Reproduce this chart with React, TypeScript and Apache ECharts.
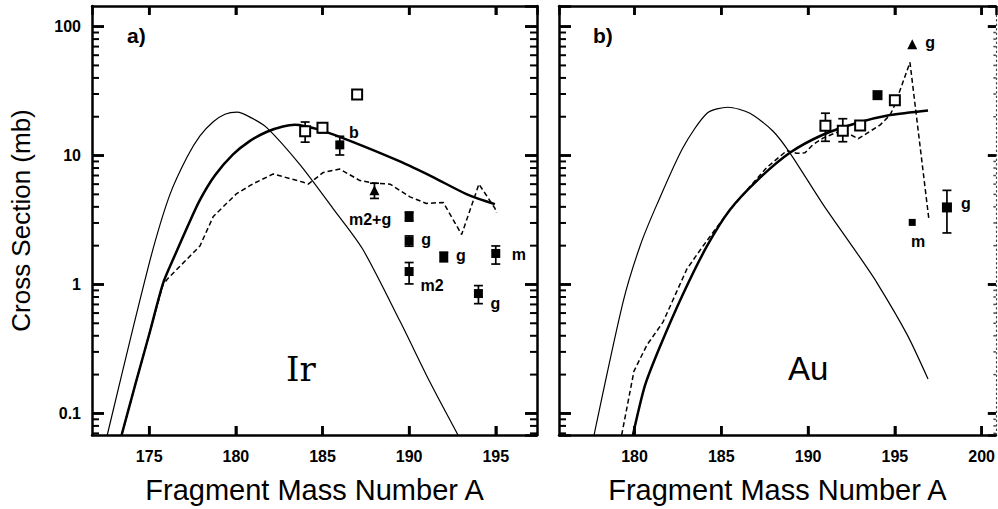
import React, { useEffect, useRef } from 'react';
import * as echarts from 'echarts';

// ---------- Panel a) Ir ----------
const irThinX = [172.58, 174.07, 175.22, 176.2, 177.18, 177.93, 178.68, 179.37, 180.07, 180.9, 181.8, 183.7, 185.6, 187.3, 189.47, 191.2, 192.82];
const irThinY = [0.068, 0.46, 1.88, 5.0, 9.7, 14.2, 18.2, 20.9, 21.7, 19.6, 16.4, 8.5, 3.9, 1.9, 0.52, 0.175, 0.068];

const irThickX = [173.41, 174.18, 175.05, 175.8, 176.49, 177.24, 177.93, 178.8, 179.84, 180.82, 181.8, 182.72, 183.41, 183.99, 184.85, 186.59, 189.47, 191.38, 193.34, 194.95];
const irThickY = [0.068, 0.164, 0.434, 1.02, 1.69, 2.87, 4.53, 7.03, 10.2, 13.0, 15.3, 16.8, 17.3, 16.9, 15.8, 13.0, 9.0, 6.8, 5.0, 4.2];

const irDashX = [173.41, 174.18, 175.05, 175.8, 176.1, 177.93, 178.7, 180.05, 181.0, 182.16, 183.9, 184.18, 185.05, 186.0, 187.16, 188.03, 188.9, 190.05, 191.0, 191.97, 193.03, 194.03, 194.95, 195.05];
const irDashY = [0.068, 0.164, 0.434, 1.0, 1.12, 1.99, 3.37, 5.07, 6.04, 7.2, 6.2, 6.0, 7.4, 7.85, 6.4, 6.1, 6.0, 4.78, 4.25, 4.33, 2.44, 6.0, 3.9, 3.6];

const irOpenX = [184, 185, 187];
const irOpenY = [15.4, 16.4, 29.7];
const irOpenLo = [12.7, 15.0, 27.7];
const irOpenHi = [18.2, 17.3, 31.5];

const irFillX = [186, 190, 190, 190, 192, 194, 195];
const irFillY = [12.1, 3.37, 2.17, 1.26, 1.64, 0.85, 1.74];
const irFillLo = [10.1, 3.1, 1.98, 1.01, 1.5, 0.71, 1.44];
const irFillHi = [14.1, 3.65, 2.38, 1.48, 1.78, 0.98, 1.99];
const irFillTags = ['b', 'm2+g', 'g', 'm2', 'g', 'g', 'm'];

const irTriX = [188];
const irTriY = [5.37];
const irTriLo = [4.65];
const irTriHi = [6.1];

// ---------- Panel b) Au ----------
const auThinX = [177.67, 179.34, 180.32, 181.3, 182.79, 184.18, 185.38, 186.65, 187.97, 188.95, 190.85, 192.82, 193.97, 195.7, 196.91];
const auThinY = [0.068, 0.73, 1.99, 4.2, 11.5, 21.3, 23.7, 21.3, 15.5, 10.5, 4.2, 1.75, 1.03, 0.41, 0.185];

const auThickX = [179.91, 180.6, 181.47, 182.79, 184.18, 185.5, 187.06, 188.95, 190.85, 192.82, 194.72, 196.91];
const auThickY = [0.068, 0.164, 0.33, 0.84, 1.99, 3.8, 6.4, 10.5, 14.5, 17.9, 20.6, 22.4];

const auDashX = [179.26, 179.97, 180.72, 181.64, 183.02, 183.95, 185.33, 186.48, 187.63, 188.77, 189.34, 189.82, 190.3, 190.88, 191.84, 192.41, 192.89, 194.16, 194.73, 195.0, 195.87, 196.96];
const auDashY = [0.068, 0.213, 0.34, 0.51, 1.32, 1.99, 3.55, 5.4, 8.1, 10.9, 10.4, 10.5, 12.2, 13.7, 15.5, 14.6, 13.5, 17.3, 20.7, 24.7, 52.8, 3.2];

const auOpenX = [191, 192, 193, 195];
const auOpenY = [17.0, 15.6, 17.1, 26.9];
const auOpenLo = [12.9, 12.8, 16.2, 25.0];
const auOpenHi = [21.3, 19.3, 18.0, 28.8];

const auFillX = [194, 198];
const auFillY = [29.4, 3.96];
const auFillLo = [29.4, 2.51];
const auFillHi = [29.4, 5.37];
const auFillTags = ['', 'g'];

const auSmallX = [196];
const auSmallY = [3.03];
const auSmallTags = ['m'];

const auTriX = [196];
const auTriY = [73];
const auTriTags = ['g'];

// ---------- Axes ----------
const xTicksA = [175, 180, 185, 190, 195];
const xTicksB = [180, 185, 190, 195, 200];
const yMajor = [0.1, 1, 10, 100];
const yMinor = [0.07, 0.08, 0.09, 0.2, 0.3, 0.4, 0.5, 0.6, 0.7, 0.8, 0.9, 2, 3, 4, 5, 6, 7, 8, 9, 20, 30, 40, 50, 60, 70, 80, 90];

const yTitle = 'Cross Section (mb)';
const xTitle = 'Fragment Mass Number A';

// label offsets (style only)
const irFillOffsets: [number, number][] = [[14, -12], [-39, 3], [17, -2], [23, 14], [17, -1], [17, 10], [23, 1]];
const auFillOffsets: [number, number][] = [[0, 0], [19, -4]];
const auSmallOffsets: [number, number][] = [[6, 19]];
const auTriOffsets: [number, number][] = [[18, -2]];

const FONT = '"Liberation Sans", Arial, sans-serif';
const INK = '#000';

const X_EXT_A = [171.7, 197.38];
const X_EXT_B = [175.65, 200.82];
const Y_EXT = [0.068, 144.5];

function zip(xs: number[], ys: number[]) {
  return xs.map((x, i) => [x, ys[i]]);
}

const xLabelFmt = (v: number) => (Math.abs(v / 5 - Math.round(v / 5)) < 1e-6 ? String(Math.round(v)) : '');
const yLabelFmt = (v: number) => {
  const l = Math.log10(v);
  return Math.abs(l - Math.round(l)) < 1e-6 ? String(+Number(v).toPrecision(3)) : '';
};

function xAxesFor(gridIndex: number, ext: number[]) {
  const base = {
    type: 'value',
    gridIndex,
    min: ext[0],
    max: ext[1],
    splitLine: { show: false },
    axisLine: { show: true, onZero: false, lineStyle: { color: INK, width: 2.5 } },
    axisTick: { show: true, inside: true, length: 9, lineStyle: { color: INK, width: 2.5 } },
  };
  return [
    {
      ...base,
      position: 'bottom',
      axisLabel: {
        show: true,
        showMinLabel: false,
        showMaxLabel: false,
        formatter: xLabelFmt,
        margin: 13,
        fontFamily: FONT,
        fontWeight: 'bold',
        fontSize: 16,
        color: INK,
      },
      name: xTitle,
      nameLocation: 'middle',
      nameGap: 40,
      nameTextStyle: { fontFamily: FONT, fontSize: 29, color: INK },
    },
    {
      ...base,
      position: 'top',
      axisLabel: { show: false },
    },
  ];
}

function yAxesFor(gridIndex: number, withLabels: boolean, rightDotted: boolean) {
  const base = {
    type: 'log',
    gridIndex,
    min: Y_EXT[0],
    max: Y_EXT[1],
    splitLine: { show: false },
  };
  const left: any = {
    ...base,
    position: 'left',
    axisLine: { show: true, onZero: false, lineStyle: { color: INK, width: 2.5 } },
    axisTick: { show: true, inside: true, length: 12, lineStyle: { color: INK, width: 2.5 } },
    axisLabel: withLabels
      ? {
          show: true,
          showMinLabel: false,
          showMaxLabel: false,
          formatter: yLabelFmt,
          margin: 11,
          fontFamily: FONT,
          fontWeight: 'bold',
          fontSize: 16,
          color: INK,
        }
      : { show: false },
  };
  if (withLabels) {
    left.name = yTitle;
    left.nameLocation = 'middle';
    left.nameGap = 58;
    left.nameTextStyle = { fontFamily: FONT, fontSize: 26, color: INK };
  }
  const right = {
    ...base,
    position: 'right',
    axisLine: {
      show: true,
      onZero: false,
      lineStyle: rightDotted ? { color: '#444', width: 1.2, type: [1.5, 3] } : { color: INK, width: 2.5 },
    },
    axisTick: { show: true, inside: true, length: rightDotted ? 8 : 12, lineStyle: { color: INK, width: 2.5 } },
    axisLabel: { show: false },
  };
  return [left, right];
}

// tick marks placed through the axes' own scales (drawn in addition to the axis ticks)
function yTickSeries(xIdx: number, yIdx: number, values: number[], xEdge: number, xMid: number, dirSign: number, len: number, color: string, width: number) {
  return {
    type: 'custom',
    xAxisIndex: xIdx,
    yAxisIndex: yIdx,
    z: 7,
    data: values.map((v) => [xMid, v]),
    encode: { x: 0, y: 1 },
    renderItem: (_p: any, api: any) => {
      const p = api.coord([xEdge, api.value(1)]);
      return {
        type: 'line',
        shape: { x1: p[0], y1: p[1], x2: p[0] + dirSign * len, y2: p[1] },
        style: { stroke: color, lineWidth: width },
      };
    },
  };
}

function xTickSeries(xIdx: number, yIdx: number, values: number[], len: number) {
  return {
    type: 'custom',
    xAxisIndex: xIdx,
    yAxisIndex: yIdx,
    z: 7,
    data: values.map((v) => [v, 1]),
    encode: { x: 0, y: 1 },
    renderItem: (_p: any, api: any) => {
      const b = api.coord([api.value(0), Y_EXT[0]]);
      const t = api.coord([api.value(0), Y_EXT[1]]);
      return {
        type: 'group',
        children: [
          { type: 'line', shape: { x1: b[0], y1: b[1], x2: b[0], y2: b[1] - len }, style: { stroke: INK, lineWidth: 2.5 } },
          { type: 'line', shape: { x1: t[0], y1: t[1], x2: t[0], y2: t[1] + len }, style: { stroke: INK, lineWidth: 2.5 } },
        ],
      };
    },
  };
}

function lineSeries(xIdx: number, yIdx: number, xs: number[], ys: number[], kind: 'thin' | 'thick' | 'dash') {
  return {
    type: 'line',
    xAxisIndex: xIdx,
    yAxisIndex: yIdx,
    data: zip(xs, ys),
    symbol: 'none',
    showSymbol: false,
    smooth: kind === 'dash' ? false : 0.25,
    z: 2,
    lineStyle: {
      color: INK,
      width: kind === 'thick' ? 2.5 : kind === 'thin' ? 1.2 : 1.5,
      type: kind === 'dash' ? [5, 3] : 'solid',
    },
  };
}

function errorSeries(xIdx: number, yIdx: number, xs: number[], lo: number[], hi: number[]) {
  return {
    type: 'custom',
    xAxisIndex: xIdx,
    yAxisIndex: yIdx,
    data: xs.map((x, i) => [x, lo[i], hi[i]]),
    encode: { x: 0, y: [1, 2] },
    z: 3,
    renderItem: (_params: any, api: any) => {
      const x = api.value(0);
      const a = api.coord([x, api.value(1)]);
      const b = api.coord([x, api.value(2)]);
      if (Math.abs(a[1] - b[1]) < 0.5) return { type: 'group', children: [] };
      const w = 4.5;
      return {
        type: 'group',
        children: [
          { type: 'line', shape: { x1: a[0], y1: a[1], x2: b[0], y2: b[1] }, style: { stroke: INK, lineWidth: 1.7 } },
          { type: 'line', shape: { x1: a[0] - w, y1: a[1], x2: a[0] + w, y2: a[1] }, style: { stroke: INK, lineWidth: 1.7 } },
          { type: 'line', shape: { x1: b[0] - w, y1: b[1], x2: b[0] + w, y2: b[1] }, style: { stroke: INK, lineWidth: 1.7 } },
        ],
      };
    },
  };
}

function pointSeries(
  xIdx: number,
  yIdx: number,
  xs: number[],
  ys: number[],
  symbol: string,
  size: number,
  open: boolean,
  tags?: string[],
  offsets?: [number, number][]
) {
  return {
    type: 'scatter',
    xAxisIndex: xIdx,
    yAxisIndex: yIdx,
    symbol,
    symbolSize: size,
    z: 4,
    itemStyle: open
      ? { color: '#fff', borderColor: INK, borderWidth: 2, opacity: 1 }
      : { color: INK, borderColor: INK, borderWidth: 0, opacity: 1 },
    data: xs.map((x, i) => {
      const item: any = { value: [x, ys[i]] };
      if (tags && tags[i]) {
        item.label = {
          show: true,
          position: 'inside',
          offset: offsets ? offsets[i] : [0, 0],
          formatter: tags[i],
          fontFamily: FONT,
          fontWeight: 'bold',
          fontSize: 16,
          color: INK,
        };
      }
      return item;
    }),
  };
}

function buildOption() {
  const xs = [...xAxesFor(0, X_EXT_A), ...xAxesFor(1, X_EXT_B)];
  const ys = [...yAxesFor(0, true, false), ...yAxesFor(1, false, true)];
  return {
    animation: false,
    backgroundColor: '#fff',
    grid: [
      { left: 92, top: 6, width: 445, height: 436 },
      { left: 559, top: 6, width: 437, height: 436 },
    ],
    xAxis: xs,
    yAxis: ys,
    graphic: [
      { type: 'text', left: 127, top: 25, style: { text: 'a)', fontFamily: FONT, fontWeight: 'bold', fontSize: 21, fill: INK } },
      { type: 'text', left: 593, top: 25, style: { text: 'b)', fontFamily: FONT, fontWeight: 'bold', fontSize: 21, fill: INK } },
      { type: 'text', left: 286, top: 352, style: { text: 'Ir', fontFamily: '"DejaVu Serif", serif', fontSize: 34, fill: INK } },
      { type: 'text', left: 788, top: 352, style: { text: 'Au', fontFamily: FONT, fontSize: 33, fill: INK } },
    ],
    series: [
      // tick marks, panel a
      xTickSeries(0, 0, xTicksA, 9),
      yTickSeries(0, 0, yMajor, X_EXT_A[0], 185, 1, 12, INK, 2.5),
      yTickSeries(0, 0, yMajor, X_EXT_A[1], 185, -1, 12, INK, 2.5),
      yTickSeries(0, 0, yMinor, X_EXT_A[0], 185, 1, 7, INK, 2),
      yTickSeries(0, 0, yMinor, X_EXT_A[1], 185, -1, 7, INK, 2),
      // tick marks, panel b
      xTickSeries(2, 2, xTicksB, 9),
      yTickSeries(2, 2, yMajor, X_EXT_B[0], 190, 1, 12, INK, 2.5),
      yTickSeries(2, 2, yMajor, X_EXT_B[1], 190, -1, 8, INK, 2.5),
      yTickSeries(2, 2, yMinor, X_EXT_B[0], 190, 1, 7, INK, 2),
      yTickSeries(2, 2, yMinor, X_EXT_B[1], 190, -1, 2.5, '#444', 1.5),
      // panel a
      lineSeries(0, 0, irThinX, irThinY, 'thin'),
      lineSeries(0, 0, irThickX, irThickY, 'thick'),
      lineSeries(0, 0, irDashX, irDashY, 'dash'),
      errorSeries(0, 0, irOpenX, irOpenLo, irOpenHi),
      errorSeries(0, 0, irFillX, irFillLo, irFillHi),
      errorSeries(0, 0, irTriX, irTriLo, irTriHi),
      pointSeries(0, 0, irOpenX, irOpenY, 'rect', 10, true),
      pointSeries(0, 0, irFillX, irFillY, 'rect', 9, false, irFillTags, irFillOffsets),
      pointSeries(0, 0, irTriX, irTriY, 'triangle', 10, false),
      // panel b
      lineSeries(2, 2, auThinX, auThinY, 'thin'),
      lineSeries(2, 2, auThickX, auThickY, 'thick'),
      lineSeries(2, 2, auDashX, auDashY, 'dash'),
      errorSeries(2, 2, auOpenX, auOpenLo, auOpenHi),
      errorSeries(2, 2, auFillX, auFillLo, auFillHi),
      pointSeries(2, 2, auOpenX, auOpenY, 'rect', 10, true),
      pointSeries(2, 2, auFillX, auFillY, 'rect', 10, false, auFillTags, auFillOffsets),
      pointSeries(2, 2, auSmallX, auSmallY, 'rect', 7, false, auSmallTags, auSmallOffsets),
      pointSeries(2, 2, auTriX, auTriY, 'triangle', 10, false, auTriTags, auTriOffsets),
    ],
  };
}

export default function App() {
  const ref = useRef<HTMLDivElement>(null);
  useEffect(() => {
    if (!ref.current) return;
    const chart = echarts.init(ref.current, null, { renderer: 'svg' });
    chart.setOption(buildOption() as any);
    return () => chart.dispose();
  }, []);
  return (
    <div
      ref={ref}
      style={{ position: 'fixed', left: 0, top: 0, width: 998, height: 509, background: '#fff' }}
    />
  );
}
